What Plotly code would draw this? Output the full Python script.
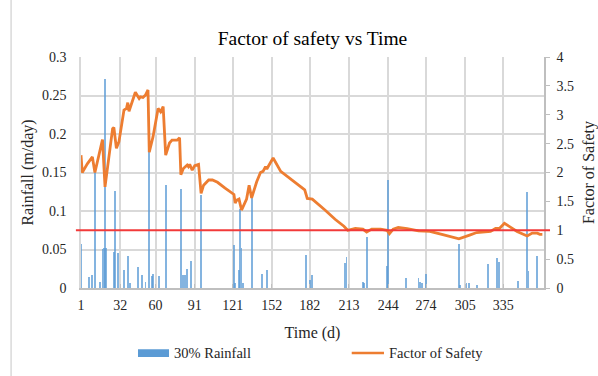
import plotly.graph_objects as go

# Daily rainfall (30% of the design rainfall), m/day
rain_day = [1, 7, 10, 12, 16, 18, 19, 20, 21, 27, 28, 30, 35, 38, 40, 46, 49, 52, 55,
            57, 58, 63, 68, 80, 82, 83, 85, 88, 96, 122, 123, 126, 127, 128, 129, 136,
            144, 148, 179, 182, 184, 210, 211, 224, 225, 227, 243, 244, 258, 268, 269,
            271, 274, 300, 301, 306, 308, 314, 323, 330, 332, 347, 354, 355, 362]
rain_value = [0.057, 0.014, 0.017, 0.151, 0.008, 0.051, 0.052, 0.271, 0.052, 0.047,
              0.126, 0.046, 0.023, 0.041, 0.007, 0.027, 0.017, 0.008, 0.176, 0.016,
              0.018, 0.016, 0.134, 0.129, 0.017, 0.017, 0.025, 0.035, 0.121, 0.056,
              0.006, 0.023, 0.102, 0.052, 0.006, 0.121, 0.018, 0.023, 0.043, 0.010,
              0.017, 0.033, 0.040, 0.008, 0.006, 0.066, 0.029, 0.140, 0.013, 0.013,
              0.008, 0.006, 0.018, 0.057, 0.004, 0.006, 0.006, 0.004, 0.031, 0.039,
              0.034, 0.009, 0.125, 0.022, 0.041]

# Factor of safety over time
fos_day = [1, 2, 6, 10, 12, 18, 20, 26, 27, 29, 31, 35, 37, 38, 39, 42, 44, 47, 48, 50,
           52, 54, 55, 58, 62, 64, 66, 68, 71, 73, 77, 79, 80, 82, 85, 86, 87, 89, 91,
           94, 96, 98, 102, 105, 109, 115, 122, 123, 124, 126, 128, 132, 134, 136, 140,
           143, 145, 147, 148, 149, 153, 159, 167, 175, 178, 180, 184, 194, 202, 209,
           212, 218, 224, 227, 231, 238, 243, 245, 248, 252, 259, 268, 277, 288, 300,
           309, 314, 325, 329, 332, 336, 341, 346, 354, 358, 362, 364, 366]
fos_value = [2.30, 2.00, 2.15, 2.27, 2.00, 2.57, 1.75, 2.76, 2.78, 2.42, 2.53, 3.08,
             3.11, 3.21, 3.06, 3.28, 3.39, 3.28, 3.31, 3.30, 3.34, 3.43, 2.35, 2.62,
             3.11, 3.05, 3.14, 2.30, 2.51, 2.56, 2.56, 2.60, 1.96, 2.07, 2.13, 2.10,
             2.14, 2.04, 2.12, 2.14, 1.64, 1.78, 1.87, 1.87, 1.83, 1.73, 1.62, 1.47,
             1.52, 1.54, 1.35, 1.54, 1.78, 1.56, 1.84, 2.00, 2.02, 2.10, 2.06, 2.10,
             2.25, 2.02, 1.88, 1.74, 1.70, 1.55, 1.54, 1.35, 1.19, 1.07, 1.00, 1.03,
             1.02, 0.97, 1.02, 1.02, 1.00, 0.94, 1.02, 1.05, 1.03, 0.99, 0.98, 0.92,
             0.85, 0.92, 0.96, 0.98, 1.03, 1.03, 1.12, 1.05, 0.98, 0.90, 0.95, 0.95,
             0.93, 0.93]

month_ticks = [1, 32, 60, 91, 121, 152, 182, 213, 244, 274, 305, 335]
critical_fos = 1.0

FONT = "Liberation Serif"
TXT = "#262626"
GRID = "#d9d9d9"
BLUE = "#5b9bd5"
ORANGE = "#ed7d31"

fig = go.Figure()
fig.add_trace(go.Bar(x=rain_day, y=rain_value, width=0.7, name="30% Rainfall",
                     marker=dict(color=BLUE, opacity=0.75, line=dict(width=0)),
                     yaxis="y"))
fig.add_trace(go.Scatter(x=fos_day, y=fos_value, mode="lines", name="Factor of Safety",
                         line=dict(color=ORANGE, width=2.8), yaxis="y2"))

# critical factor of safety line
fig.add_shape(type="line", xref="paper", yref="y2", x0=-0.011, x1=1.013,
              y0=critical_fos, y1=critical_fos, line=dict(color="#f23a3a", width=2))
# chart-area border on the left
fig.add_shape(type="line", xref="paper", yref="paper", x0=-0.151, x1=-0.151,
              y0=-0.4, y1=1.3, line=dict(color=GRID, width=1.5))

# legend drawn below the axis title
fig.add_shape(type="rect", xref="paper", yref="paper", x0=0.1231, x1=0.1901,
              y0=-0.2655, y1=-0.2987, fillcolor=BLUE, line=dict(width=0))
fig.add_annotation(xref="paper", yref="paper", x=0.1970, y=-0.2814, text="30% Rainfall",
                   showarrow=False, xanchor="left", yanchor="middle",
                   font=dict(family=FONT, size=14.5, color=TXT))
fig.add_shape(type="line", xref="paper", yref="paper", x0=0.5847, x1=0.6544,
              y0=-0.2814, y1=-0.2814, line=dict(color=ORANGE, width=2.5))
fig.add_annotation(xref="paper", yref="paper", x=0.6600, y=-0.2814, text="Factor of Safety",
                   showarrow=False, xanchor="left", yanchor="middle",
                   font=dict(family=FONT, size=14.5, color=TXT))

fig.update_layout(
    width=598, height=376,
    margin=dict(l=81, r=54, t=57, b=88, autoexpand=False),
    paper_bgcolor="white", plot_bgcolor="white",
    showlegend=False, bargap=0,
    font=dict(family=FONT, size=14, color=TXT),
    title=dict(text="Factor of safety vs Time", x=0.5, xref="paper", y=1 - 38 / 376,
               yref="container", xanchor="center", yanchor="middle",
               font=dict(family=FONT, size=19.5, color="#000000")),
    xaxis=dict(range=[1, 367.3], tickmode="array", tickvals=month_ticks,
               ticktext=[str(t) for t in month_ticks], showgrid=True, gridcolor=GRID,
               gridwidth=1.5, showline=True, linecolor="#bfbfbf", linewidth=1.5,
               ticks="inside", ticklen=4, tickcolor="#bfbfbf", zeroline=False,
               ticklabelstandoff=3, automargin=False,
               title=dict(text="Time (d)", standoff=15, font=dict(family=FONT, size=16))),
    yaxis=dict(range=[0, 0.3], dtick=0.05, tickformat="~g", showgrid=True,
               gridcolor=GRID, gridwidth=1.5, showline=True, linecolor=GRID,
               linewidth=1.5, zeroline=False, ticks="", ticklabelstandoff=10,
               automargin=False,
               title=dict(text="Rainfall (m/day)", standoff=4,
                          font=dict(family=FONT, size=16))),
    yaxis2=dict(range=[0, 4], dtick=0.5, tickformat="~g", overlaying="y", side="right",
                showgrid=False, showline=True, linecolor="#bfbfbf", linewidth=1.5,
                zeroline=False, ticks="outside", ticklen=4, tickcolor="#bfbfbf",
                ticklabelstandoff=4, automargin=False,
                title=dict(text="Factor of Safety", standoff=17,
                           font=dict(family=FONT, size=16))),
)

fig.write_html("out.html")
